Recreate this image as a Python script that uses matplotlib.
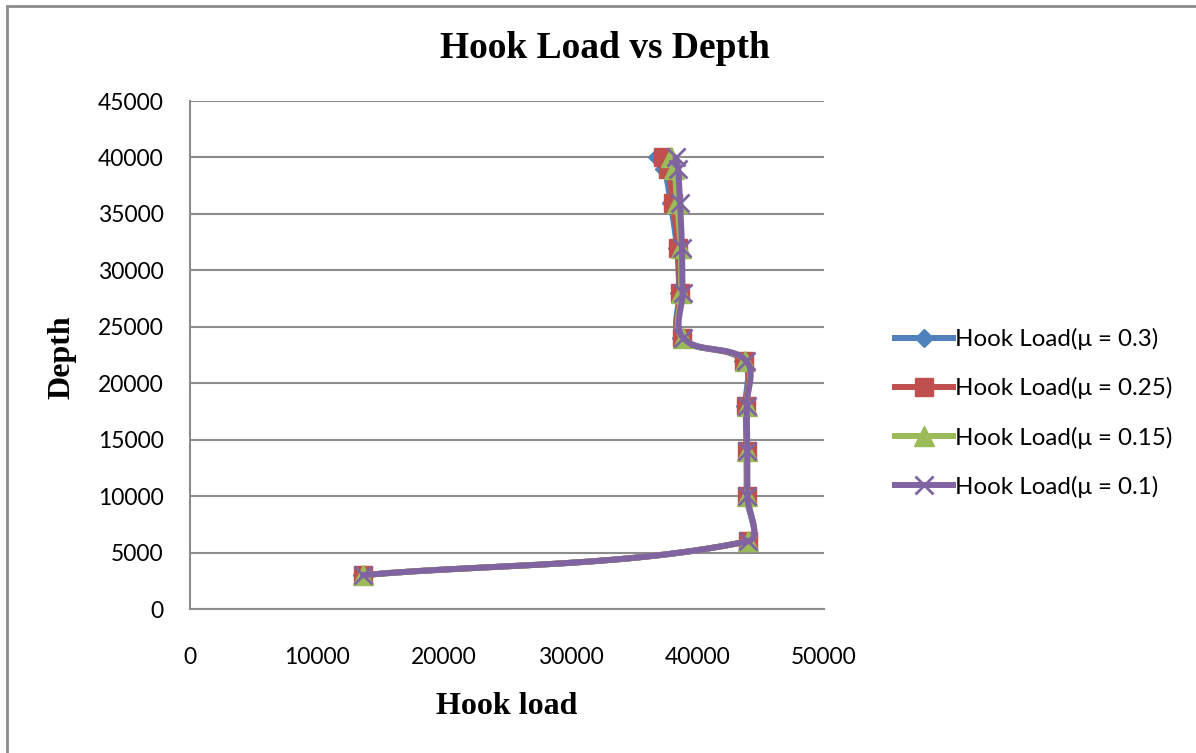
import numpy as np
import matplotlib
matplotlib.use('Agg')
import matplotlib.pyplot as plt
from matplotlib.lines import Line2D
from matplotlib.patches import Rectangle

plt.rcParams['font.family'] = ['Lato', 'DejaVu Sans']

# depth values (ft) at each survey point
depth = [3000, 6000, 10000, 14000, 18000, 22000, 24000, 28000, 32000, 36000, 39000, 40000]

# hook load for each friction factor
hl_03 = [13600, 44000, 43900, 43900, 43800, 43600, 38700, 38600, 38400, 37900, 37400, 36800]
hl_025 = [13650, 44000, 43950, 43900, 43850, 43700, 38800, 38650, 38500, 38100, 37700, 37300]
hl_015 = [13650, 44000, 43950, 43950, 43900, 43800, 38850, 38750, 38700, 38400, 38200, 37900]
hl_01 = [13650, 44000, 43950, 43950, 43900, 43850, 38900, 38850, 38800, 38650, 38500, 38300]

labels = ['Hook Load(\u03bc = 0.3)', 'Hook Load(\u03bc = 0.25)',
          'Hook Load(\u03bc = 0.15)', 'Hook Load(\u03bc = 0.1)']
colors = ['#4F81BD', '#C0504D', '#9BBB59', '#8064A2']
markers = ['D', 's', '^', 'x']
msizes = [9, 13.5, 14, 13]

W, H = 1196, 753
fig = plt.figure(figsize=(W / 100, H / 100), dpi=100)
ax = fig.add_axes([190 / W, (H - 609) / H, (824 - 190) / W, (609 - 101) / H])

xmax, ymax = 50000, 45000
sx = (824 - 190) / xmax
sy = (609 - 101) / ymax


def smooth(x, y, n=30):
    # excel-ish smoothed line, bezier segments built in pixel space
    p = np.column_stack([np.array(x) * sx, np.array(y) * sy])
    m = len(p)
    out = [p[0]]
    for i in range(m - 1):
        a, b = p[i], p[i + 1]
        seg = np.hypot(*(b - a))
        t0 = (p[i + 1] - p[i - 1]) if i > 0 else (b - a)
        t1 = (p[i + 2] - p[i]) if i + 2 < m else (b - a)
        t0 = t0 / (np.hypot(*t0) + 1e-9)
        t1 = t1 / (np.hypot(*t1) + 1e-9)
        c1 = a + t0 * seg / 3
        c2 = b - t1 * seg / 3
        t = np.linspace(0, 1, n)[1:, None]
        pts = ((1 - t) ** 3) * a + 3 * ((1 - t) ** 2) * t * c1 \
            + 3 * (1 - t) * t ** 2 * c2 + t ** 3 * b
        out.extend(pts)
    out = np.array(out)
    return out[:, 0] / sx, out[:, 1] / sy


series = [hl_03, hl_025, hl_015, hl_01]
for k, s in enumerate(series):
    xs, ys = smooth(s, depth)
    ax.plot(xs, ys, color=colors[k], linewidth=4.3, solid_capstyle='round',
            zorder=2 + k * 2)
    ax.plot(s, depth, linestyle='none', marker=markers[k], ms=msizes[k],
            color=colors[k], mec=colors[k], mew=2 if markers[k] == 'x' else 1,
            zorder=3 + k * 2)

ax.set_xlim(0, xmax)
ax.set_ylim(0, ymax)
ax.set_xticks(np.arange(0, 50001, 10000))
ax.set_yticks(np.arange(0, 45001, 5000))
ax.grid(axis='y', color='#8c8c8c', linewidth=1.5)
ax.set_axisbelow(True)
for side in ['top', 'right']:
    ax.spines[side].set_visible(False)
for side in ['left', 'bottom']:
    ax.spines[side].set_color('#8c8c8c')
    ax.spines[side].set_linewidth(1.5)
ax.tick_params(length=0, labelsize=16.5, colors='black')
ax.tick_params(axis='x', pad=27)
ax.tick_params(axis='y', pad=19)

fig.text(605 / W, 1 - 48 / H, 'Hook Load vs Depth', family='Liberation Serif',
         weight='bold', fontsize=27, ha='center', va='center')
fig.text(507 / W, 1 - 707 / H, 'Hook load', family='Liberation Serif',
         weight='bold', fontsize=23, ha='center', va='center')
fig.text(62 / W, 1 - 357 / H, 'Depth', family='Liberation Serif',
         weight='bold', fontsize=23, ha='center', va='center', rotation=90)

handles = [Line2D([], [], color=colors[k], linewidth=4.3, marker=markers[k],
                  ms=msizes[k], mec=colors[k], mew=2 if markers[k] == 'x' else 1)
           for k in range(4)]
fig.legend(handles, labels, loc='center left', bbox_to_anchor=(895 / W, 1 - 413 / H),
           frameon=False, fontsize=17.4, handlelength=2.4, handletextpad=0.1,
           labelspacing=1.12, borderaxespad=0, borderpad=0)

# chart border
fig.patches.append(Rectangle((7 / W, -0.1), 1.2, 1 - 6 / H + 0.1,
                             transform=fig.transFigure, fill=False,
                             edgecolor='#8c8c8c', linewidth=2))

fig.savefig('out.png', dpi=100)
